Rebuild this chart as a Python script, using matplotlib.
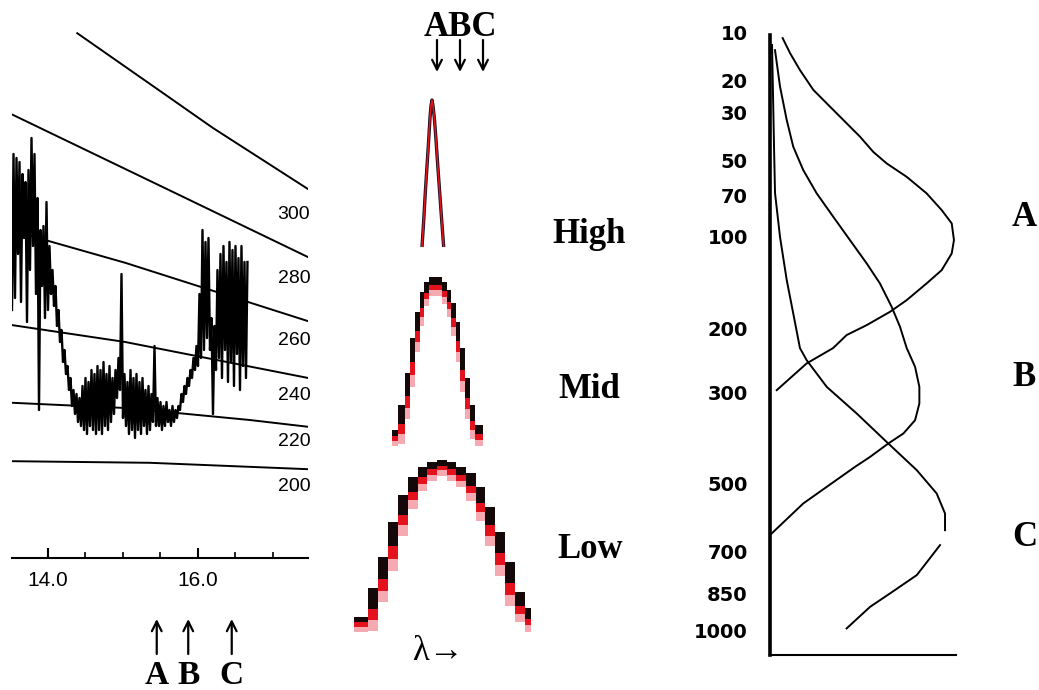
import numpy as np
import matplotlib
matplotlib.use('Agg')
import matplotlib.pyplot as plt
from matplotlib.patches import FancyArrowPatch
from matplotlib.transforms import Bbox, TransformedBbox, blended_transform_factory

plt.rcParams['font.family'] = ['Liberation Sans', 'DejaVu Sans']

W, H = 1039, 690

# ---- left panel: measured spectrum (radiance) and blackbody curves ----
wavelength_start = 13.52   # micron
wavelength_step = 0.02
spectrum_rad = [
    62, 101, 65, 100, 76, 99, 64, 96, 80, 94,
    59, 97, 72, 105, 78, 101, 66, 90, 37, 82,
    68, 83, 60, 89, 62, 78, 66, 72, 63, 68,
    58, 62, 54, 57, 49, 52, 46, 48, 42, 45,
    38, 42, 36, 41, 34, 40, 33, 43, 32, 45,
    31, 44, 33, 47, 32, 46, 31, 48, 32, 47,
    31, 49, 33, 46, 32, 48, 34, 45, 36, 47,
    40, 50, 42, 71, 35, 46, 33, 44, 31, 47,
    32, 45, 30, 46, 32, 44, 31, 45, 33, 42,
    31, 43, 32, 41, 34, 53, 33, 40, 33, 39,
    32, 38, 33, 39, 34, 37, 33, 38, 34, 37,
    35, 38, 37, 41, 39, 43, 41, 45, 43, 47,
    45, 50, 47, 53, 48, 66, 50, 82, 52, 79,
    55, 80, 52, 60, 36, 58, 47, 72, 50, 76,
    45, 78, 52, 74, 44, 79, 49, 77, 43, 78,
    51, 75, 42, 78, 48, 74, 45, 74,
]

iso_temps = [300, 280, 260, 240, 220, 200]
iso_wl = [
    [14.39, 15.59, 16.20, 17.47],
    [13.53, 15.59, 17.47],
    [13.53, 15.03, 17.47],
    [13.53, 15.03, 17.47],
    [13.53, 15.03, 16.69, 17.47],
    [13.53, 15.36, 17.47],
]
iso_rad = [
    [131.2, 115.5, 107.5, 92.2],
    [110.8, 92.2, 75.2],
    [81.8, 73.8, 59.2],
    [58.2, 54.0, 45.0],
    [38.8, 37.5, 34.5, 32.8],
    [24.2, 23.8, 22.2],
]
label_drop = [12, 9, 8, 6.5, 4.5, 6]   # points below curve end

channel_names = ['A', 'B', 'C']
channel_wl = [15.45, 15.87, 16.45]

# ---- middle panel: channel response functions ----
high_x = [-10, -8.3, -6.7, -5, -3.3, -2, -1, 0, 1, 2.3, 4, 5.8, 7.7, 9.7, 11.7]
high_resp = [0, 0.18, 0.37, 0.55, 0.73, 0.88, 0.96, 1.0, 0.96, 0.88, 0.73, 0.55, 0.37, 0.18, 0]

mid_edges = [-40.3, -33.7, -27, -22, -17, -12, -7.7, -3, 3.3, 9.7, 14.7, 19, 24, 28, 33, 38, 43, 51.3]
mid_resp = [0.013, 0.174, 0.381, 0.606, 0.774, 0.903, 0.968, 1.0, 1.0, 0.968,
            0.916, 0.832, 0.710, 0.542, 0.348, 0.174, 0.045]

low_edges = [-77.7, -64.3, -54.3, -44.3, -34.3, -24.3, -14.3, -5.3, 4.7, 14.7,
             24, 33.7, 43.7, 53, 63, 73, 83, 93, 99]
low_resp = [0.008, 0.19, 0.388, 0.61, 0.778, 0.894, 0.958, 0.99, 1.0, 0.99,
            0.958, 0.916, 0.831, 0.704, 0.546, 0.356, 0.166, 0.063]

# ---- right panel: weighting functions vs pressure (hPa) ----
pressure_ticks = [10, 20, 30, 50, 70, 100, 200, 300, 500, 700, 850, 1000]
wf_a_w = [0.068, 0.108, 0.161, 0.233, 0.323, 0.412, 0.484, 0.555, 0.627, 0.735, 0.842, 0.923,
          0.977, 0.989, 0.977, 0.923, 0.842, 0.735, 0.645, 0.520, 0.412, 0.339, 0.197, 0.036]
wf_a_p = [11.0, 13.8, 17.5, 22.7, 27.9, 33.8, 39.2, 46.0, 51.7, 59.0, 68.9, 80.1,
          89.9, 103.4, 115.1, 131.1, 144.9, 163.7, 177.9, 195.0, 208.6, 227.4, 251.0, 296.3]
wf_b_w = [0.027, 0.054, 0.090, 0.125, 0.179, 0.251, 0.340, 0.430, 0.520, 0.591, 0.654, 0.699,
          0.735, 0.780, 0.803, 0.803, 0.780, 0.717, 0.636, 0.538, 0.457, 0.305, 0.179, 0.009]
wf_b_p = [13.2, 21.8, 32.6, 43.6, 55.3, 68.9, 84.9, 103.4, 124.5, 144.9, 171.7, 197.3,
          227.4, 256.5, 290.4, 320.9, 353.8, 381.7, 403.6, 434.4, 458.4, 509.3, 554.5, 643.5]
wf_c_w = [0.011, 0.022, 0.027, 0.054, 0.090, 0.125, 0.161, 0.197, 0.305, 0.466, 0.636,
          0.789, 0.896, 0.941, 0.941, np.nan, 0.914, 0.824, 0.789, 0.645, 0.538, 0.412]
wf_c_p = [12.2, 45.2, 68.7, 100.9, 141.4, 179.9, 227.4, 245.8, 290.4, 340.3, 403.6,
          466.5, 526.9, 583.2, 633.3, np.nan, 680.7, 753.8, 783.3, 851.2, 903.4, 992.2]

serif = ['Liberation Serif', 'DejaVu Serif']
KAPPA = 0.286


def box(l, t, r, b):
    return [l / W, 1 - b / H, (r - l) / W, (b - t) / H]


def fx(px):
    return px / W


def fy(py):
    return 1 - py / H


def arrow(x, y0, y1, transform):
    fig.add_artist(FancyArrowPatch((x, y0), (x, y1), transform=transform,
                                   arrowstyle='->,head_length=7,head_width=3.5',
                                   mutation_scale=1, lw=1.6, color='black',
                                   shrinkA=0, shrinkB=0))


fig = plt.figure(figsize=(W / 100, H / 100), dpi=100)

# ================= left panel =================
ax1 = fig.add_axes(box(12, 20, 308, 558))
ax1.set_xlim(13.52, 17.467)
ax1.set_ylim(0, 134.5)
wl = wavelength_start + wavelength_step * np.arange(len(spectrum_rad))
ax1.plot(wl, spectrum_rad, color='black', lw=1.7)
for T, xs, ys, drop in zip(iso_temps, iso_wl, iso_rad, label_drop):
    ax1.plot(xs, ys, color='black', lw=1.4)
    ax1.annotate(str(T), xy=(xs[-1], ys[-1]), xytext=(1.5, -drop), textcoords='offset points',
                 ha='right', va='top', fontsize=14, annotation_clip=False)
for s in ['top', 'right', 'left']:
    ax1.spines[s].set_visible(False)
ax1.spines['bottom'].set_linewidth(1.5)
ax1.set_yticks([])
ax1.set_xticks([14, 16])
ax1.set_xticklabels(['14.0', '16.0'])
ax1.set_xticks([14.5, 15, 15.5, 16.5, 17], minor=True)
ax1.tick_params(axis='x', which='major', direction='in', length=7, width=1.5, pad=9, labelsize=15)
ax1.tick_params(axis='x', which='minor', direction='in', length=4, width=1.2)

tr = blended_transform_factory(ax1.transData, fig.transFigure)
for w_c, name in zip(channel_wl, channel_names):
    arrow(w_c, fy(654), fy(619), tr)
    fig.text(w_c, fy(684), name, transform=tr, ha='center', va='baseline',
             fontsize=24, family=serif, weight='bold')


# ================= middle panel =================
def band_axes(top, base):
    h = base - top
    pad = 25
    ax = fig.add_axes(box(340, top - pad, 545, base + pad))
    ax.set_xlim(-92, 113)
    ax.set_ylim(-pad / h, 1 + pad / h)
    ax.axis('off')
    return ax, h


def draw_steps(ax, edges, resp, h):
    edges = np.asarray(edges, float)
    resp = np.asarray(resp, float)
    left = edges[:-1]
    width = np.diff(edges)
    padded = np.concatenate([[0], resp, [0]])
    lower = np.minimum(padded[:-2], padded[2:])
    span = np.clip(resp - lower, 0, None)
    t = 1.0 / h
    black_h = 0.55 * span + 5 * t
    red_h = 0.25 * span + 4 * t
    pink_h = 0.2 * span + 5 * t
    ax.bar(left, pink_h, bottom=resp - black_h - red_h - pink_h, width=width,
           align='edge', color='#f5a9b0', linewidth=0)
    ax.bar(left, red_h, bottom=resp - black_h - red_h, width=width,
           align='edge', color='#e3121c', linewidth=0)
    ax.bar(left, black_h, bottom=resp - black_h, width=width,
           align='edge', color='#150808', linewidth=0)


ax_hi, h_hi = band_axes(100, 247)
ax_hi.plot(high_x, high_resp, color='#101020', lw=2.4, solid_capstyle='butt')
ax_hi.plot(high_x, high_resp, color='#e3121c', lw=1.2, solid_capstyle='butt')

ax_mid, h_mid = band_axes(277, 432)
draw_steps(ax_mid, mid_edges, mid_resp, h_mid)

ax_low, h_low = band_axes(460, 618)
draw_steps(ax_low, low_edges, low_resp, h_low)

fig.text(fx(460), fy(36), 'ABC', ha='center', va='baseline', fontsize=25,
         family=serif, weight='bold')
for px in [437, 460, 483]:
    arrow(fx(px), fy(40), fy(72), fig.transFigure)

t_hi = fig.text(fx(552), fy(243), 'High', ha='left', va='baseline', fontsize=25,
                family=serif, weight='bold')
t_hi.set_clip_box(TransformedBbox(Bbox([[0, 0], [625 / W, 1]]), fig.transFigure))
t_hi.set_clip_on(True)
fig.text(fx(558), fy(398), 'Mid', ha='left', va='baseline', fontsize=25,
         family=serif, weight='bold')
fig.text(fx(557), fy(558), 'Low', ha='left', va='baseline', fontsize=25,
         family=serif, weight='bold')
fig.text(fx(412), fy(651), '\u03bb\u2192', ha='left', va='center', fontsize=25,
         family=serif)

# ================= right panel =================
ax3 = fig.add_axes(box(770, 20, 956, 655))
ax3.set_yscale('function', functions=(lambda p: np.power(np.abs(p), KAPPA),
                                      lambda k: np.power(np.abs(k), 1 / KAPPA)))
ax3.set_ylim(1110, 8.2)
ax3.set_xlim(0, 1)
ax3.plot(wf_a_w, wf_a_p, color='black', lw=1.4)
ax3.plot(wf_b_w, wf_b_p, color='black', lw=1.4)
ax3.plot(wf_c_w, wf_c_p, color='black', lw=1.4)
ax3.spines['top'].set_visible(False)
ax3.spines['right'].set_visible(False)
ax3.spines['left'].set_linewidth(2.6)
ax3.spines['left'].set_bounds(10.5, 1110)
ax3.spines['bottom'].set_linewidth(1.5)
ax3.set_xticks([])
ax3.yaxis.set_minor_locator(matplotlib.ticker.NullLocator())
ax3.set_yticks(pressure_ticks)
ax3.set_yticklabels([str(p) for p in pressure_ticks], family='DejaVu Sans',
                    weight='bold', fontsize=14)
ax3.tick_params(axis='y', length=0, pad=16)

for name, py in zip(channel_names, [218, 378, 537]):
    fig.text(fx(1012), fy(py), name, ha='left', va='center', fontsize=25,
             family=serif, weight='bold')

fig.savefig('out.png', dpi=100)
